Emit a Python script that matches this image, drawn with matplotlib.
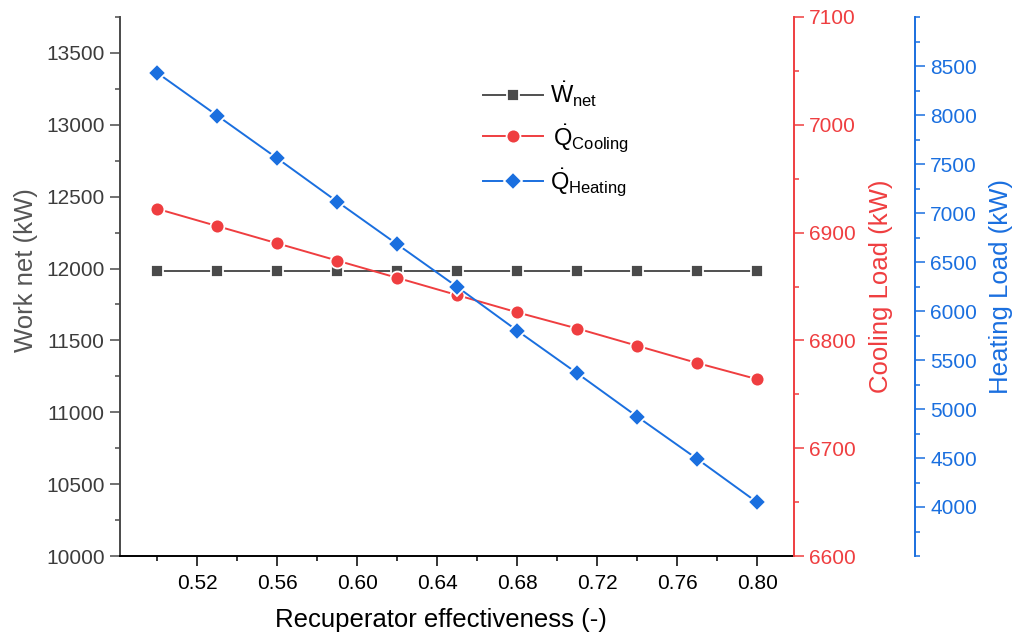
import matplotlib
matplotlib.use("Agg")
import matplotlib.pyplot as plt
from matplotlib.ticker import MultipleLocator, FixedLocator, FormatStrFormatter

# Recuperator effectiveness sweep
effectiveness = [0.50, 0.53, 0.56, 0.59, 0.62, 0.65, 0.68, 0.71, 0.74, 0.77, 0.80]
work_net = [11985, 11985, 11985, 11985, 11985, 11985, 11985, 11985, 11985, 11985, 11985]
cooling_load = [6922, 6906, 6890, 6874, 6858, 6842, 6826, 6811, 6795, 6779, 6764]
heating_load = [8429, 7993, 7557, 7115, 6680, 6245, 5799, 5364, 4922, 4490, 4047]

x_major_ticks = [0.52, 0.56, 0.60, 0.64, 0.68, 0.72, 0.76, 0.80]
x_minor_ticks = [0.50, 0.54, 0.58, 0.62, 0.66, 0.70, 0.74, 0.78, 0.82]
heating_ticks = [4000, 4500, 5000, 5500, 6000, 6500, 7000, 7500, 8000, 8500]

legend_labels = [r"$\mathregular{\dot{W}_{net}}$",
                 r"$\mathregular{\,\dot{Q}_{Cooling}}$",
                 r"$\mathregular{\dot{Q}_{Heating}}$"]

GRAY = "#4a4a4a"
RED = "#ef3e40"
BLUE = "#1a6fdf"

plt.rcParams["font.family"] = ["Liberation Sans", "DejaVu Sans"]
plt.rcParams["mathtext.fontset"] = "custom"
plt.rcParams["mathtext.rm"] = "Liberation Sans"
plt.rcParams["mathtext.it"] = "Liberation Sans:italic"
plt.rcParams["mathtext.bf"] = "Liberation Sans:bold"

W, H = 1019, 637
fig = plt.figure(figsize=(W / 100, H / 100), dpi=100)
left, right, bottom, top = 120, 794, 556, 17
ax = fig.add_axes([left / W, 1 - bottom / H, (right - left) / W, (bottom - top) / H])
ax2 = ax.twinx()
ax3 = ax.twinx()

line_kw = dict(linewidth=1.4, markeredgecolor="white", markeredgewidth=1.3)
l1, = ax.plot(effectiveness, work_net, color="#505050", marker="s", markersize=9,
              markerfacecolor=GRAY, **line_kw)
l2, = ax2.plot(effectiveness, cooling_load, color=RED, marker="o", markersize=10,
               markerfacecolor=RED, **line_kw)
l3, = ax3.plot(effectiveness, heating_load, color=BLUE, marker="D", markersize=9,
               markerfacecolor=BLUE, **line_kw)

ax.set_xlim(0.4813, 0.8184)
ax.set_ylim(10000, 13750)
ax2.set_ylim(6600, 7100)
ax3.set_ylim(3500, 9000)

tick_major = dict(which="major", direction="out", length=7, width=1.1, labelsize=15)
tick_minor = dict(which="minor", direction="out", length=3.6, width=1.1)

# host axes: x axis and work net
ax.xaxis.set_major_locator(FixedLocator(x_major_ticks))
ax.xaxis.set_minor_locator(FixedLocator(x_minor_ticks))
ax.xaxis.set_major_formatter(FormatStrFormatter("%.2f"))
ax.yaxis.set_major_locator(MultipleLocator(500))
ax.yaxis.set_minor_locator(MultipleLocator(250))
ax.tick_params(axis="x", colors="black", pad=6, **tick_major)
ax.tick_params(axis="x", colors="black", **tick_minor)
ax.tick_params(axis="y", colors=GRAY, labelcolor="#3c3c3c", pad=4, **tick_major)
ax.tick_params(axis="y", colors=GRAY, **tick_minor)
for s in ("top", "right"):
    ax.spines[s].set_visible(False)
ax.spines["left"].set_color(GRAY)
ax.spines["bottom"].set_color("black")
for s in ("left", "bottom"):
    ax.spines[s].set_linewidth(1.4)

ax.set_xlabel("Recuperator effectiveness (-)", fontsize=18.5, color="black")
ax.set_ylabel("Work net (kW)", fontsize=18.5, color="#555555")
ax.yaxis.set_label_coords(-0.121, 0.531)
ax.xaxis.set_label_coords(0.476, -0.096)

# cooling load axis
ax2.yaxis.set_major_locator(MultipleLocator(100))
ax2.yaxis.set_minor_locator(MultipleLocator(50))
ax2.tick_params(axis="y", colors=RED, pad=4, **tick_major)
ax2.tick_params(axis="y", colors=RED, **tick_minor)
for s in ("top", "left", "bottom"):
    ax2.spines[s].set_visible(False)
ax2.spines["right"].set_color(RED)
ax2.spines["right"].set_linewidth(1.4)
ax2.set_ylabel("Cooling Load (kW)", fontsize=18.5, color=RED)
ax2.yaxis.set_label_coords(1.112, 0.5)

# heating load axis, offset to the right
ax3.spines["right"].set_position(("axes", (915 - left) / (right - left)))
ax3.yaxis.set_major_locator(FixedLocator(heating_ticks))
ax3.yaxis.set_minor_locator(MultipleLocator(250))
ax3.tick_params(axis="y", colors=BLUE, pad=4, **tick_major)
ax3.tick_params(axis="y", colors=BLUE, **tick_minor)
for s in ("top", "left", "bottom"):
    ax3.spines[s].set_visible(False)
ax3.spines["right"].set_color(BLUE)
ax3.spines["right"].set_linewidth(1.4)
ax3.set_ylabel("Heating Load (kW)", fontsize=18.5, color=BLUE)
ax3.yaxis.set_label_coords(1.289, 0.5)

for a in (ax, ax2, ax3):
    a.patch.set_visible(False)

leg = ax3.legend([l1, l2, l3], legend_labels, loc="upper left",
                 bbox_to_anchor=(483 / W, 1 - 80 / H), bbox_transform=fig.transFigure,
                 frameon=False, fontsize=17, handlelength=2.55, handletextpad=0.3,
                 labelspacing=0.52, borderpad=0, borderaxespad=0)

fig.savefig("out.png", dpi=100, facecolor="white")
